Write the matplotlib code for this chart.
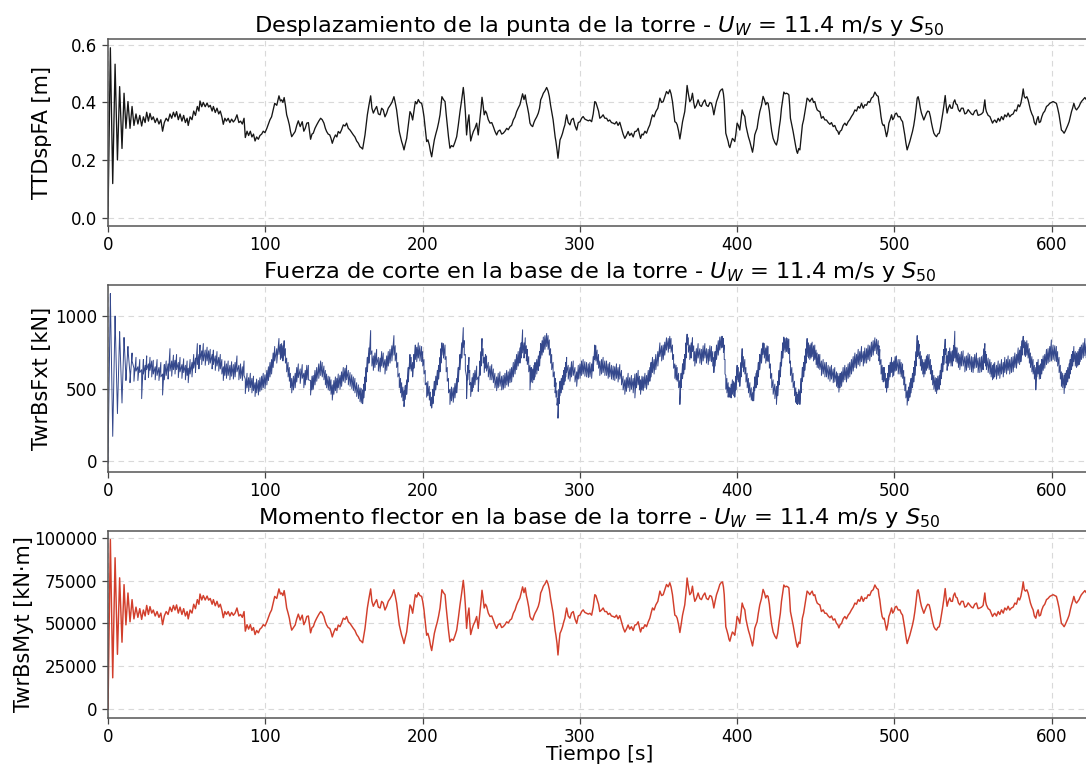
import numpy as np
import matplotlib
matplotlib.use("Agg")
import matplotlib.pyplot as plt

# Sample times [s]
time_s = [
    0, 1.5, 3.0, 4.5, 6.0, 7.4, 8.9, 10.2, 11.4, 12.7,
    14.0, 15.3, 16.5, 17.8, 19.0, 20.2, 21.4, 22.5, 23.6, 24.6,
    25.7, 26.7, 27.8, 28.8, 30.0, 31.2, 32.4, 33.6, 34.7, 35.8,
    37.0, 38.2, 39.4, 40.5, 41.6, 42.6, 43.6, 44.7, 45.8, 47.0,
    48.1, 49.2, 50.3, 51.0, 52.2, 53.4, 54.5, 55.6, 56.8, 57.8,
    58.5, 59.6, 60.6, 61.8, 63.0, 64.0, 65.0, 66.2, 67.0, 68.2,
    69.3, 70.4, 71.4, 72.4, 73.3, 74.3, 75.3, 76.4, 77.5, 78.6,
    79.7, 80.8, 82.0, 83.2, 84.3, 85.4, 86.5, 87.3, 88.4, 89.4,
    90.5, 91.5, 92.5, 93.5, 94.5, 95.6, 96.6, 97.7, 98.7, 99.8,
    101.0, 102.0, 103.0, 104.0, 105.0, 106.0, 107.3, 108.7, 109.6, 110.4,
    111.2, 112.0, 112.8, 113.6, 114.5, 115.3, 116.0, 116.8, 117.9, 119.0,
    120.0, 121.0, 122.2, 123.5, 124.5, 125.4, 126.4, 127.4, 128.8, 129.7,
    130.5, 131.6, 132.7, 134.0, 135.2, 136.2, 137.3, 138.2, 139.0, 140.0,
    141.0, 141.8, 142.6, 143.6, 144.6, 145.5, 146.4, 147.5, 148.5, 149.6,
    150.7, 151.7, 152.8, 153.9, 155.0, 156.0, 157.0, 158.1, 159.2, 160.2,
    161.0, 161.9, 162.6, 163.4, 164.1, 164.9, 165.9, 167.0, 167.8, 168.7,
    169.7, 170.8, 171.9, 173.0, 174.0, 175.0, 176.1, 177.2, 178.2, 179.3,
    180.5, 181.8, 182.6, 183.5, 184.3, 185.2, 186.0, 186.7, 187.5, 188.2,
    189.0, 189.9, 190.9, 192.0, 192.8, 193.7, 194.5, 195.4, 196.3, 197.3,
    198.3, 199.4, 200.1, 200.9, 201.7, 202.6, 203.4, 204.3, 205.0, 205.8,
    206.6, 207.5, 208.4, 209.4, 210.2, 211.1, 211.7, 212.3, 213.3, 214.3,
    215.0, 215.7, 216.5, 217.4, 218.4, 219.5, 220.6, 221.7, 222.7, 223.8,
    224.9, 225.9, 226.5, 227.2, 228.0, 228.7, 229.5, 230.0, 230.6, 231.5,
    232.3, 233.3, 234.4, 235.4, 236.5, 237.2, 237.8, 238.5, 239.2, 240.0,
    240.7, 241.8, 242.9, 244.0, 245.0, 246.0, 247.1, 248.1, 249.2, 250.3,
    251.3, 252.4, 253.5, 254.5, 255.6, 256.6, 257.7, 258.8, 259.8, 260.8,
    261.9, 262.7, 263.6, 264.5, 265.3, 266.0, 266.6, 267.5, 268.3, 269.1,
    270.0, 270.8, 271.5, 272.6, 273.6, 274.4, 275.1, 276.0, 276.8, 277.8,
    278.9, 279.8, 280.6, 281.4, 282.1, 283.0, 283.8, 284.3, 284.8, 285.5,
    286.1, 286.8, 287.4, 288.2, 289.0, 289.8, 290.5, 291.0, 291.6, 292.6,
    293.7, 294.7, 295.8, 296.9, 298.0, 299.0, 300.1, 301.1, 302.1, 303.2,
    304.3, 305.4, 306.4, 307.5, 308.5, 309.5, 310.2, 311.0, 311.9, 312.7,
    313.8, 314.8, 315.9, 317.0, 318.0, 319.0, 320.1, 321.2, 322.2, 323.3,
    324.3, 325.4, 326.5, 327.5, 328.6, 329.6, 330.7, 331.7, 332.8, 333.9,
    335.0, 336.0, 337.1, 337.9, 338.6, 339.5, 340.3, 341.4, 342.4, 343.5,
    344.5, 345.3, 346.2, 347.2, 348.3, 349.6, 350.9, 352.0, 353.0, 354.0,
    355.1, 356.2, 357.2, 358.0, 358.9, 359.6, 360.4, 361.2, 361.9, 362.8,
    363.6, 364.4, 365.3, 366.0, 366.7, 367.5, 368.2, 369.0, 369.9, 370.8,
    371.6, 372.4, 373.1, 374.1, 375.2, 376.3, 377.3, 378.4, 379.5, 380.5,
    381.6, 382.7, 383.7, 384.5, 385.2, 386.0, 386.9, 388.0, 389.0, 390.0,
    390.7, 391.3, 391.8, 392.3, 392.8, 393.5, 394.3, 394.8, 395.4, 396.2,
    397.0, 397.8, 398.5, 399.2, 400.0, 400.8, 401.7, 402.5, 403.2, 404.0,
    404.9, 405.6, 406.4, 407.2, 408.1, 409.0, 409.8, 410.5, 411.2, 412.0,
    412.7, 413.5, 414.4, 415.5, 416.5, 417.3, 418.2, 419.0, 419.7, 420.5,
    421.2, 422.0, 422.9, 424.0, 425.0, 425.8, 426.7, 427.5, 428.2, 429.0,
    429.7, 430.5, 431.4, 432.2, 432.9, 433.4, 433.9, 434.8, 435.6, 436.5,
    437.3, 437.9, 438.4, 439.2, 439.9, 440.7, 441.5, 442.3, 443.0, 443.8,
    444.5, 445.4, 446.2, 447.0, 447.7, 448.6, 449.4, 450.2, 450.9, 451.8,
    452.6, 453.6, 454.7, 455.8, 456.8, 457.9, 459.0, 460.0, 461.1, 462.1,
    463.2, 464.0, 464.7, 465.5, 466.4, 467.4, 468.5, 469.5, 470.6, 471.6,
    472.7, 473.8, 474.9, 475.9, 477.0, 478.0, 479.1, 480.2, 481.2, 482.3,
    483.3, 484.3, 485.4, 486.5, 487.6, 488.7, 489.7, 490.2, 490.7, 491.5,
    492.2, 492.9, 493.5, 494.3, 495.0, 495.8, 496.5, 497.3, 498.2, 498.9,
    499.6, 500.5, 501.3, 502.4, 503.5, 504.3, 505.2, 505.9, 506.6, 507.3,
    508.1, 509.0, 509.8, 510.6, 511.5, 512.3, 513.0, 513.8, 514.5, 515.1,
    515.7, 516.5, 517.2, 518.0, 518.7, 519.5, 520.4, 521.2, 522.1, 522.9,
    523.6, 524.3, 525.1, 526.0, 526.8, 527.6, 528.5, 529.2, 529.9, 530.7,
    531.4, 532.3, 532.9, 533.5, 534.3, 535.2, 536.0, 536.9, 537.6, 538.4,
    539.1, 539.9, 540.7, 541.6, 542.6, 543.7, 544.8, 545.8, 546.9, 547.9,
    549.0, 550.0, 551.1, 552.2, 553.2, 554.3, 555.4, 556.4, 557.0, 557.5,
    558.0, 558.5, 559.6, 560.7, 561.5, 562.4, 563.1, 563.8, 564.9, 566.0,
    567.0, 568.1, 569.2, 570.2, 571.3, 572.3, 573.3, 574.4, 575.5, 576.6,
    577.6, 578.7, 579.6, 580.4, 581.2, 581.9, 582.6, 583.3, 584.2, 585.0,
    585.8, 586.5, 587.4, 588.2, 589.0, 589.9, 590.6, 591.4, 592.1, 592.9,
    593.7, 594.6, 595.6, 596.7, 597.7, 598.8, 599.8, 600.9, 602.0, 603.0,
    603.8, 604.7, 605.5, 606.2, 607.0, 607.9, 608.6, 609.4, 610.2, 611.1,
    611.8, 612.6, 613.3, 614.1, 615.0, 615.8, 616.6, 617.4, 618.1, 618.9,
    620.0, 621.1, 622.0, 623.5, 625.0,
]

# Tower-top fore-aft displacement TTDspFA [m]
ttdspfa = [
    0.0, 0.59, 0.118, 0.533, 0.20, 0.455, 0.24, 0.432, 0.31, 0.403,
    0.31, 0.386, 0.32, 0.36, 0.325, 0.355, 0.318, 0.35, 0.33, 0.366,
    0.335, 0.362, 0.34, 0.35, 0.33, 0.345, 0.325, 0.34, 0.30, 0.33,
    0.345, 0.335, 0.36, 0.345, 0.366, 0.35, 0.368, 0.34, 0.36, 0.335,
    0.355, 0.33, 0.345, 0.32, 0.35, 0.34, 0.37, 0.355, 0.386, 0.37,
    0.405, 0.385, 0.40, 0.385, 0.398, 0.384, 0.39, 0.37, 0.386, 0.365,
    0.38, 0.36, 0.37, 0.35, 0.324, 0.345, 0.335, 0.345, 0.33, 0.342,
    0.332, 0.34, 0.357, 0.33, 0.335, 0.325, 0.345, 0.278, 0.30, 0.285,
    0.30, 0.28, 0.29, 0.266, 0.28, 0.272, 0.285, 0.29, 0.30, 0.295,
    0.31, 0.325, 0.34, 0.35, 0.374, 0.397, 0.39, 0.423, 0.405, 0.409,
    0.40, 0.417, 0.39, 0.357, 0.34, 0.322, 0.30, 0.281, 0.29, 0.299,
    0.32, 0.336, 0.316, 0.333, 0.30, 0.31, 0.328, 0.33, 0.272, 0.29,
    0.293, 0.31, 0.322, 0.335, 0.345, 0.34, 0.328, 0.31, 0.299, 0.29,
    0.287, 0.275, 0.258, 0.275, 0.287, 0.28, 0.299, 0.293, 0.305, 0.322,
    0.318, 0.328, 0.31, 0.304, 0.295, 0.287, 0.28, 0.266, 0.258, 0.246,
    0.243, 0.238, 0.26, 0.287, 0.32, 0.357, 0.39, 0.423, 0.38, 0.363,
    0.375, 0.386, 0.36, 0.357, 0.38, 0.374, 0.35, 0.363, 0.38, 0.389,
    0.40, 0.42, 0.40, 0.374, 0.34, 0.299, 0.28, 0.264, 0.25, 0.235,
    0.255, 0.275, 0.32, 0.368, 0.36, 0.339, 0.37, 0.403, 0.395, 0.41,
    0.40, 0.397, 0.38, 0.351, 0.31, 0.264, 0.27, 0.252, 0.23, 0.211,
    0.24, 0.27, 0.29, 0.31, 0.33, 0.357, 0.39, 0.42, 0.41, 0.403,
    0.36, 0.322, 0.28, 0.241, 0.25, 0.246, 0.262, 0.281, 0.32, 0.368,
    0.41, 0.452, 0.42, 0.368, 0.287, 0.33, 0.357, 0.31, 0.266, 0.285,
    0.299, 0.31, 0.328, 0.287, 0.345, 0.38, 0.418, 0.39, 0.357, 0.37,
    0.363, 0.34, 0.328, 0.33, 0.316, 0.30, 0.287, 0.30, 0.304, 0.29,
    0.293, 0.30, 0.31, 0.305, 0.316, 0.32, 0.339, 0.35, 0.368, 0.38,
    0.392, 0.41, 0.43, 0.41, 0.426, 0.40, 0.386, 0.36, 0.328, 0.32,
    0.316, 0.33, 0.339, 0.35, 0.363, 0.38, 0.409, 0.42, 0.432, 0.44,
    0.452, 0.44, 0.421, 0.39, 0.368, 0.34, 0.304, 0.28, 0.264, 0.235,
    0.206, 0.24, 0.27, 0.28, 0.293, 0.31, 0.322, 0.34, 0.357, 0.33,
    0.322, 0.34, 0.345, 0.32, 0.304, 0.33, 0.333, 0.345, 0.351, 0.342,
    0.339, 0.336, 0.339, 0.333, 0.36, 0.403, 0.40, 0.386, 0.37, 0.345,
    0.35, 0.357, 0.345, 0.345, 0.335, 0.339, 0.33, 0.328, 0.325, 0.333,
    0.32, 0.331, 0.31, 0.29, 0.275, 0.285, 0.299, 0.285, 0.293, 0.28,
    0.299, 0.30, 0.31, 0.29, 0.275, 0.29, 0.287, 0.30, 0.293, 0.31,
    0.322, 0.34, 0.357, 0.35, 0.368, 0.38, 0.415, 0.40, 0.403, 0.42,
    0.438, 0.43, 0.444, 0.43, 0.403, 0.37, 0.333, 0.33, 0.322, 0.30,
    0.273, 0.30, 0.333, 0.35, 0.368, 0.41, 0.459, 0.43, 0.403, 0.41,
    0.432, 0.40, 0.38, 0.39, 0.409, 0.39, 0.386, 0.40, 0.409, 0.39,
    0.386, 0.40, 0.397, 0.38, 0.357, 0.38, 0.403, 0.42, 0.438, 0.445,
    0.447, 0.43, 0.403, 0.35, 0.293, 0.28, 0.264, 0.25, 0.243, 0.26,
    0.275, 0.27, 0.264, 0.29, 0.328, 0.32, 0.304, 0.34, 0.374, 0.36,
    0.351, 0.32, 0.299, 0.28, 0.264, 0.245, 0.227, 0.25, 0.287, 0.30,
    0.31, 0.34, 0.368, 0.39, 0.421, 0.41, 0.392, 0.40, 0.397, 0.37,
    0.333, 0.30, 0.275, 0.26, 0.252, 0.27, 0.31, 0.34, 0.38, 0.41,
    0.436, 0.43, 0.432, 0.43, 0.426, 0.39, 0.345, 0.32, 0.299, 0.27,
    0.246, 0.23, 0.223, 0.24, 0.235, 0.28, 0.322, 0.34, 0.363, 0.39,
    0.415, 0.41, 0.403, 0.41, 0.415, 0.40, 0.403, 0.385, 0.374, 0.37,
    0.368, 0.345, 0.351, 0.339, 0.339, 0.33, 0.324, 0.33, 0.316, 0.32,
    0.304, 0.30, 0.289, 0.30, 0.304, 0.32, 0.328, 0.32, 0.333, 0.34,
    0.351, 0.36, 0.374, 0.37, 0.386, 0.38, 0.397, 0.38, 0.392, 0.39,
    0.403, 0.40, 0.415, 0.42, 0.436, 0.425, 0.421, 0.40, 0.386, 0.35,
    0.328, 0.32, 0.322, 0.30, 0.281, 0.30, 0.328, 0.34, 0.357, 0.34,
    0.345, 0.36, 0.363, 0.35, 0.351, 0.34, 0.333, 0.31, 0.287, 0.26,
    0.235, 0.25, 0.264, 0.28, 0.299, 0.32, 0.345, 0.38, 0.415, 0.42,
    0.406, 0.38, 0.363, 0.35, 0.339, 0.35, 0.363, 0.37, 0.368, 0.35,
    0.328, 0.31, 0.293, 0.285, 0.281, 0.29, 0.293, 0.31, 0.333, 0.36,
    0.386, 0.424, 0.39, 0.363, 0.38, 0.392, 0.38, 0.38, 0.40, 0.409,
    0.395, 0.392, 0.375, 0.368, 0.38, 0.38, 0.36, 0.363, 0.375, 0.368,
    0.36, 0.357, 0.37, 0.374, 0.355, 0.357, 0.36, 0.366, 0.39, 0.409,
    0.38, 0.368, 0.355, 0.351, 0.34, 0.328, 0.335, 0.339, 0.33, 0.345,
    0.335, 0.351, 0.34, 0.357, 0.35, 0.363, 0.35, 0.357, 0.36, 0.374,
    0.37, 0.392, 0.385, 0.397, 0.42, 0.447, 0.42, 0.415, 0.42, 0.409,
    0.39, 0.374, 0.36, 0.351, 0.33, 0.322, 0.34, 0.351, 0.33, 0.333,
    0.35, 0.363, 0.37, 0.386, 0.39, 0.397, 0.40, 0.403, 0.40, 0.397,
    0.38, 0.357, 0.33, 0.304, 0.30, 0.293, 0.30, 0.31, 0.32, 0.333,
    0.35, 0.368, 0.38, 0.397, 0.38, 0.374, 0.38, 0.386, 0.395, 0.403,
    0.41, 0.417, 0.41, 0.42, 0.415,
]

# Tower-base shear force TwrBsFxt [kN]: upper and lower edge of the fast oscillation
twrbsfxt_hi = [
    -15, 1155, 175, 1000, 330, 892, 405, 852, 575, 790,
    600, 745, 640, 715, 650, 700, 630, 700, 660, 725,
    670, 715, 690, 695, 650, 700, 645, 680, 600, 665,
    690, 670, 775, 690, 730, 695, 735, 680, 715, 665,
    705, 660, 690, 640, 700, 680, 735, 710, 810, 735,
    800, 760, 810, 765, 785, 760, 770, 735, 765, 725,
    755, 715, 735, 700, 650, 690, 670, 690, 660, 685,
    665, 680, 725, 660, 670, 650, 690, 565, 605, 575,
    605, 570, 585, 540, 565, 555, 575, 585, 605, 595,
    625, 650, 680, 700, 745, 790, 775, 845, 805, 810,
    795, 830, 775, 710, 680, 645, 605, 570, 585, 605,
    645, 670, 635, 665, 605, 625, 660, 660, 555, 585,
    590, 625, 645, 670, 690, 680, 655, 625, 600, 585,
    580, 560, 525, 555, 580, 570, 600, 590, 615, 645,
    640, 660, 625, 610, 595, 580, 570, 540, 525, 505,
    500, 490, 530, 580, 645, 715, 780, 900, 760, 725,
    745, 770, 715, 710, 755, 745, 700, 725, 755, 770,
    795, 865, 795, 745, 680, 605, 570, 540, 510, 485,
    520, 560, 645, 735, 715, 680, 735, 800, 785, 815,
    795, 790, 755, 700, 625, 540, 550, 515, 475, 440,
    495, 550, 585, 625, 660, 715, 775, 815, 810, 800,
    720, 645, 570, 495, 510, 505, 535, 570, 645, 735,
    815, 920, 830, 735, 580, 660, 715, 625, 540, 575,
    605, 625, 655, 580, 690, 755, 845, 775, 715, 735,
    725, 680, 655, 665, 635, 605, 580, 605, 615, 585,
    590, 605, 625, 615, 635, 645, 680, 700, 735, 755,
    780, 815, 905, 815, 850, 795, 770, 720, 660, 645,
    635, 660, 680, 700, 725, 755, 810, 830, 855, 865,
    880, 865, 835, 775, 735, 680, 615, 570, 540, 485,
    430, 495, 550, 570, 590, 625, 645, 680, 715, 660,
    645, 685, 690, 645, 615, 660, 670, 690, 700, 685,
    680, 670, 680, 670, 720, 800, 795, 765, 735, 690,
    700, 715, 690, 690, 670, 680, 660, 655, 650, 670,
    645, 665, 625, 585, 560, 575, 605, 575, 590, 570,
    600, 605, 625, 585, 560, 585, 580, 605, 590, 625,
    645, 680, 715, 700, 735, 755, 815, 795, 800, 820,
    850, 845, 860, 845, 800, 735, 670, 660, 645, 605,
    555, 605, 670, 700, 735, 815, 875, 850, 800, 815,
    850, 795, 755, 775, 810, 775, 770, 795, 810, 775,
    770, 795, 790, 755, 715, 755, 800, 830, 855, 860,
    860, 845, 800, 700, 590, 570, 540, 510, 500, 530,
    560, 550, 540, 585, 660, 645, 615, 680, 775, 720,
    700, 645, 605, 570, 540, 505, 470, 510, 580, 605,
    625, 680, 735, 775, 815, 810, 780, 795, 790, 735,
    670, 605, 560, 530, 515, 550, 625, 680, 755, 815,
    855, 845, 850, 845, 840, 775, 690, 645, 605, 550,
    505, 475, 460, 495, 485, 570, 645, 680, 725, 775,
    845, 815, 800, 810, 820, 795, 800, 765, 745, 735,
    735, 690, 700, 680, 680, 660, 650, 660, 635, 645,
    615, 605, 585, 605, 615, 645, 660, 645, 670, 680,
    700, 720, 745, 735, 770, 755, 790, 755, 780, 775,
    800, 795, 820, 830, 850, 840, 830, 795, 770, 700,
    660, 645, 645, 605, 570, 605, 660, 680, 715, 680,
    690, 720, 725, 700, 700, 680, 670, 625, 580, 530,
    485, 510, 540, 570, 605, 645, 690, 755, 865, 830,
    805, 755, 725, 700, 680, 700, 725, 735, 735, 700,
    660, 625, 590, 575, 570, 585, 590, 625, 670, 720,
    770, 840, 775, 725, 755, 780, 755, 760, 795, 895,
    785, 780, 745, 735, 755, 760, 720, 725, 745, 735,
    720, 715, 735, 745, 710, 715, 720, 730, 775, 810,
    755, 735, 710, 700, 680, 660, 670, 680, 660, 690,
    670, 700, 680, 715, 700, 725, 700, 715, 720, 745,
    735, 780, 765, 790, 830, 860, 830, 820, 830, 810,
    775, 745, 720, 700, 660, 645, 680, 700, 660, 670,
    700, 725, 735, 770, 775, 790, 835, 800, 795, 790,
    755, 715, 660, 615, 605, 590, 605, 625, 645, 670,
    700, 735, 755, 790, 755, 745, 755, 770, 785, 800,
    815, 845, 810, 830, 820,
]

twrbsfxt_lo = [
    -15, 1150, 170, 995, 327, 885, 400, 845, 555, 770,
    540, 690, 550, 620, 555, 610, 430, 600, 560, 630,
    575, 625, 580, 600, 560, 590, 555, 580, 455, 560,
    590, 565, 620, 585, 630, 600, 630, 575, 615, 570,
    610, 560, 590, 540, 600, 580, 640, 610, 665, 635,
    700, 665, 690, 660, 690, 665, 675, 635, 665, 625,
    655, 620, 635, 600, 555, 590, 570, 590, 560, 585,
    565, 580, 615, 560, 570, 555, 590, 465, 505, 480,
    505, 470, 485, 445, 470, 455, 480, 490, 505, 500,
    525, 555, 580, 600, 645, 690, 675, 735, 700, 710,
    690, 725, 675, 615, 580, 550, 505, 470, 490, 505,
    545, 575, 535, 570, 505, 525, 560, 560, 455, 490,
    495, 525, 550, 570, 590, 580, 560, 525, 505, 490,
    485, 460, 420, 460, 485, 470, 505, 495, 515, 550,
    540, 560, 525, 515, 500, 485, 470, 445, 430, 410,
    400, 395, 435, 485, 545, 615, 675, 735, 655, 625,
    645, 665, 620, 615, 655, 645, 600, 625, 655, 675,
    690, 730, 690, 645, 580, 505, 470, 440, 415, 375,
    425, 460, 545, 635, 620, 580, 640, 700, 685, 710,
    690, 685, 655, 600, 525, 440, 450, 420, 380, 365,
    395, 450, 490, 525, 565, 615, 675, 730, 710, 700,
    615, 550, 470, 390, 415, 405, 435, 470, 545, 630,
    710, 785, 730, 630, 430, 560, 610, 525, 445, 480,
    505, 525, 560, 480, 590, 655, 725, 675, 610, 640,
    620, 580, 560, 560, 540, 505, 485, 505, 515, 490,
    495, 505, 525, 515, 540, 545, 580, 600, 630, 655,
    675, 710, 745, 710, 740, 690, 665, 615, 490, 545,
    540, 560, 580, 600, 625, 655, 710, 730, 750, 770,
    790, 770, 730, 675, 630, 580, 515, 470, 440, 385,
    295, 395, 450, 470, 495, 525, 550, 580, 610, 565,
    550, 580, 590, 545, 515, 565, 570, 590, 600, 585,
    580, 575, 580, 570, 620, 700, 690, 665, 640, 590,
    600, 610, 590, 590, 570, 580, 565, 560, 555, 570,
    545, 565, 525, 490, 460, 480, 505, 480, 495, 470,
    435, 505, 525, 490, 460, 490, 485, 505, 495, 525,
    550, 580, 610, 600, 630, 655, 720, 690, 700, 730,
    765, 750, 775, 750, 700, 640, 570, 560, 550, 505,
    390, 505, 570, 600, 630, 710, 800, 750, 700, 710,
    755, 690, 655, 675, 710, 675, 665, 690, 710, 675,
    665, 690, 685, 655, 610, 655, 700, 730, 765, 780,
    785, 750, 700, 600, 495, 470, 440, 445, 440, 435,
    460, 450, 440, 490, 560, 545, 515, 580, 645, 615,
    600, 545, 505, 470, 440, 420, 415, 415, 485, 505,
    525, 580, 630, 675, 735, 710, 675, 690, 685, 640,
    570, 505, 460, 430, 390, 450, 525, 580, 655, 710,
    765, 750, 755, 750, 740, 675, 590, 545, 505, 450,
    405, 395, 390, 395, 390, 470, 550, 580, 625, 675,
    720, 710, 700, 710, 720, 690, 700, 665, 645, 640,
    630, 590, 600, 580, 580, 565, 550, 565, 540, 545,
    515, 505, 475, 505, 515, 545, 560, 545, 570, 580,
    600, 620, 645, 640, 665, 655, 685, 655, 675, 675,
    700, 690, 720, 730, 760, 740, 730, 690, 665, 600,
    560, 545, 550, 505, 475, 505, 560, 580, 610, 580,
    590, 620, 625, 600, 600, 580, 570, 525, 485, 435,
    385, 415, 440, 470, 505, 545, 590, 655, 720, 730,
    705, 655, 625, 600, 580, 600, 625, 640, 630, 600,
    560, 525, 495, 480, 465, 490, 495, 525, 570, 615,
    665, 735, 675, 625, 655, 675, 655, 655, 690, 710,
    685, 675, 645, 630, 655, 655, 615, 625, 645, 630,
    615, 610, 640, 645, 610, 610, 615, 630, 675, 710,
    655, 630, 610, 600, 580, 560, 570, 580, 565, 590,
    570, 600, 580, 610, 600, 625, 600, 610, 615, 645,
    640, 675, 665, 685, 730, 780, 730, 720, 730, 710,
    675, 645, 615, 600, 565, 490, 580, 600, 565, 570,
    600, 625, 640, 665, 675, 685, 690, 700, 690, 685,
    655, 610, 565, 515, 505, 465, 505, 525, 545, 570,
    600, 630, 655, 685, 655, 645, 655, 665, 685, 700,
    710, 725, 710, 730, 720,
]

# Tower-base bending moment TwrBsMyt [kN·m]
twrbsmyt = [
    0, 99300, 18100, 88600, 31900, 76800, 39000, 72800, 49200, 67900,
    51000, 64000, 52700, 59600, 53600, 58700, 52400, 57900, 54400, 60600,
    55300, 59900, 56100, 57900, 54400, 57000, 53600, 56100, 49300, 54400,
    57000, 55300, 59600, 57000, 60600, 57900, 60900, 56100, 59600, 55300,
    58700, 54400, 57000, 52700, 57900, 56100, 61300, 58700, 64000, 61300,
    67300, 63800, 66400, 63800, 66100, 63700, 64700, 61300, 64000, 60400,
    63000, 59600, 61300, 57900, 53400, 57000, 55300, 57000, 54400, 56500,
    54800, 56100, 59100, 54400, 55300, 53600, 57000, 45500, 49300, 46700,
    49300, 45900, 47600, 43500, 45900, 44500, 46700, 47600, 49300, 48500,
    51000, 53600, 56100, 57900, 62000, 65900, 64700, 70300, 67300, 67900,
    66400, 69300, 64700, 59100, 56100, 53100, 49300, 46100, 47600, 49100,
    52700, 55500, 52000, 54900, 49300, 51000, 54100, 54400, 44500, 47600,
    48100, 51000, 53100, 55300, 57000, 56100, 54100, 51000, 49100, 47600,
    47100, 45000, 42100, 45000, 47100, 45900, 49100, 48100, 50200, 53100,
    52400, 54100, 51000, 50000, 48500, 47100, 45900, 43500, 42100, 40100,
    39600, 38700, 42500, 47100, 52700, 59100, 64700, 70300, 63000, 60100,
    62100, 64000, 59600, 59100, 63000, 62000, 57900, 60100, 63000, 64500,
    66400, 69800, 66400, 62000, 56100, 49100, 45900, 43100, 40800, 38200,
    41600, 45000, 52700, 60900, 59600, 56000, 61300, 66900, 65500, 68100,
    66400, 65900, 63000, 58000, 51000, 43100, 44200, 41100, 37300, 34100,
    39000, 44200, 47600, 51000, 54400, 59100, 64700, 69800, 68100, 66900,
    59600, 53100, 45900, 39200, 40800, 40100, 42800, 46100, 52700, 60900,
    68100, 75300, 69800, 60900, 47100, 54400, 59100, 51000, 43500, 46700,
    49100, 51000, 54100, 47100, 57000, 63000, 69500, 64700, 59100, 61300,
    60100, 56100, 54100, 54400, 52000, 49300, 47100, 49300, 50000, 47600,
    48100, 49300, 51000, 50200, 52000, 52700, 56000, 57900, 60900, 63000,
    65000, 68100, 71500, 68100, 70900, 66400, 64000, 59600, 54100, 52700,
    52000, 54400, 56000, 57900, 60100, 63000, 67900, 69800, 71900, 73200,
    75300, 73200, 70000, 64700, 60900, 56100, 50000, 45900, 43100, 38200,
    31500, 39000, 44200, 45900, 48100, 51000, 53100, 56100, 59100, 54400,
    53100, 56100, 57000, 52700, 50000, 54400, 54900, 57000, 58000, 56500,
    56000, 55500, 56000, 54900, 59600, 66900, 66400, 64000, 61300, 57000,
    57900, 59100, 57000, 57000, 55300, 56000, 54400, 54100, 53600, 54900,
    52700, 54600, 51000, 47600, 45000, 46700, 49100, 46700, 48100, 45900,
    49100, 49300, 51000, 47600, 45000, 47600, 47100, 49300, 48100, 51000,
    53100, 56100, 59100, 57900, 60900, 63000, 69000, 66400, 66900, 69800,
    72900, 71500, 73900, 71500, 66900, 61300, 54900, 54400, 53100, 49300,
    44700, 49300, 54900, 57900, 60900, 68100, 76700, 71500, 66900, 68100,
    71900, 66400, 63000, 64700, 67900, 64700, 64000, 66400, 67900, 64700,
    64000, 66400, 65900, 63000, 59100, 63000, 66900, 69800, 72900, 74100,
    74400, 71500, 66900, 57900, 48100, 45900, 43100, 40800, 39600, 42500,
    45000, 44200, 43100, 47600, 54100, 52700, 50000, 56100, 62000, 59600,
    58000, 52700, 49100, 45900, 43100, 39900, 36800, 40800, 47100, 49300,
    51000, 56100, 60900, 64700, 70000, 68100, 65000, 66400, 65900, 61300,
    54900, 49300, 45000, 42500, 41100, 44200, 51000, 56100, 63000, 68100,
    72600, 71500, 71900, 71500, 70900, 64700, 57000, 52700, 49100, 44200,
    40100, 37300, 36100, 39000, 38200, 45900, 53100, 56100, 60100, 64700,
    69000, 68100, 66900, 68100, 69000, 66400, 66900, 63800, 62000, 61300,
    60900, 57000, 58000, 56000, 56000, 54400, 53400, 54400, 52000, 52700,
    50000, 49300, 47400, 49300, 50000, 52700, 54100, 52700, 54900, 56100,
    58000, 59600, 62000, 61300, 64000, 63000, 65900, 63000, 65000, 64700,
    66900, 66400, 69000, 69800, 72600, 70700, 70000, 66400, 64000, 57900,
    54100, 52700, 53100, 49300, 46100, 49300, 54100, 56100, 59100, 56100,
    57000, 59600, 60100, 57900, 58000, 56100, 54900, 51000, 47100, 42500,
    38200, 40800, 43100, 45900, 49100, 52700, 57000, 63000, 69000, 69800,
    67400, 63000, 60100, 57900, 56000, 57900, 60100, 61300, 60900, 57900,
    54100, 51000, 48100, 46700, 46100, 47600, 48100, 51000, 54900, 59600,
    64000, 70500, 64700, 60100, 63000, 65000, 63000, 63000, 66400, 67900,
    65500, 65000, 62100, 60900, 63000, 63000, 59600, 60100, 62100, 60900,
    59600, 59100, 61300, 62000, 58700, 59100, 59600, 60600, 64700, 67900,
    63000, 60900, 58700, 58000, 56100, 54100, 55300, 56000, 54400, 57000,
    55300, 58000, 56100, 59100, 57900, 60100, 57900, 59100, 59600, 62000,
    61300, 65000, 63800, 65900, 69800, 74400, 69800, 69000, 69800, 67900,
    64700, 62000, 59600, 58000, 54400, 53100, 56100, 58000, 54400, 54900,
    57900, 60100, 61300, 64000, 64700, 65900, 66400, 66900, 66400, 65900,
    63000, 59100, 54400, 50000, 49300, 48100, 49300, 51000, 52700, 54900,
    57900, 60900, 63000, 65900, 63000, 62000, 63000, 64000, 65500, 66900,
    68100, 69300, 68100, 69800, 69000,
]

x_ticks = [0, 100, 200, 300, 400, 500, 600]

t = np.asarray(time_s, dtype=float)
disp = np.asarray(ttdspfa, dtype=float)
shear_hi = np.asarray(twrbsfxt_hi, dtype=float)
shear_lo = np.asarray(twrbsfxt_lo, dtype=float)
moment = np.asarray(twrbsmyt, dtype=float)

# Fast oscillation of the shear force: the trace runs between the upper and lower edge at every sample
shear_t = np.repeat(t, 2)
shear_v = np.column_stack([shear_hi, shear_lo]).ravel()

plt.rcParams["font.family"] = ["DejaVu Sans"]
plt.rcParams["mathtext.fontset"] = "dejavusans"

fig = plt.figure(figsize=(10.86, 7.65), dpi=100)
W, H = 1086.0, 765.0

def add_panel(top_px, bottom_px):
    left_px, right_px = 108.0, 1091.0
    return fig.add_axes([left_px / W, 1 - bottom_px / H,
                         (right_px - left_px) / W, (bottom_px - top_px) / H])

ax1 = add_panel(39, 226)
ax2 = add_panel(285, 472)
ax3 = add_panel(531, 718)

ax1.plot(t, disp, color="#161616", lw=0.95)
ax2.plot(shear_t, shear_v, color="#34488c", lw=0.7)
ax3.plot(t, moment, color="#d23f2c", lw=1.05)

title_tail = r" - $U_W$ = 11.4 m/s y $S_{50}$"
specs = [
    (ax1, "Desplazamiento de la punta de la torre" + title_tail, "TTDspFA [m]",
     (-0.0295, 0.6205), [0.0, 0.2, 0.4, 0.6], ["0.0", "0.2", "0.4", "0.6"], -0.057),
    (ax2, "Fuerza de corte en la base de la torre" + title_tail, "TwrBsFxt [kN]",
     (-76, 1214), [0, 500, 1000], ["0", "500", "1000"], -0.057),
    (ax3, "Momento flector en la base de la torre" + title_tail, "TwrBsMyt [kN·m]",
     (-5500, 104300), [0, 25000, 50000, 75000, 100000],
     ["0", "25000", "50000", "75000", "100000"], -0.075),
]

for ax, title, ylabel, ylim, yt, ytl, label_x in specs:
    ax.set_xlim(0, 625)
    ax.set_ylim(*ylim)
    ax.set_xticks(x_ticks)
    ax.set_xticklabels([str(v) for v in x_ticks])
    ax.set_yticks(yt)
    ax.set_yticklabels(ytl)
    ax.set_title(title, fontsize=16.2, pad=5)
    ax.set_ylabel(ylabel, fontsize=15)
    ax.yaxis.set_label_coords(label_x, 0.5)
    ax.grid(True, linestyle=(0, (5, 4)), color="#d9d9d9", lw=0.8)
    ax.set_axisbelow(True)
    ax.tick_params(labelsize=12, length=4, width=0.9, color="#444444")
    for sp in ax.spines.values():
        sp.set_color("#555555")
        sp.set_linewidth(1.1)

ax3.set_xlabel("Tiempo [s]", fontsize=14.5, labelpad=-1)

fig.savefig("out.png", dpi=100)
